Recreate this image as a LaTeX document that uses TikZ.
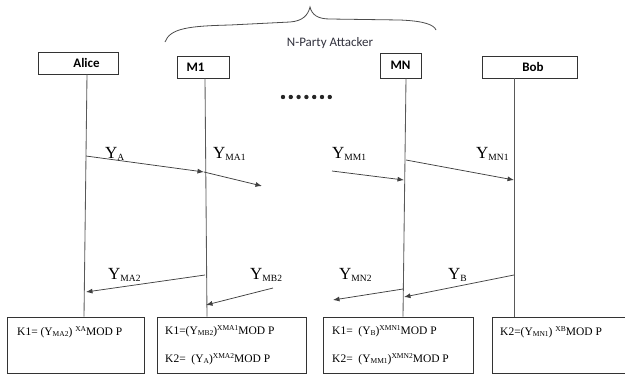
\documentclass[tikz,border=0pt]{standalone}
\usepackage{fontspec}
\setmainfont{Liberation Serif}
\newfontfamily\hdrfont{Carlito}
\usetikzlibrary{arrows.meta}
\definecolor{bracegray}{RGB}{50,50,62}
% small lowered / raised text, as in the source
\newcommand\ysub[1]{\raisebox{-2.5pt}{\fontsize{9.5}{9.5}\selectfont #1}}
\newcommand\ksub[1]{\raisebox{-1.5pt}{\fontsize{7.5}{7.5}\selectfont #1}}
\newcommand\ksup[1]{\raisebox{4pt}{\fontsize{7.5}{7.5}\selectfont #1}}

\begin{document}
\begin{tikzpicture}[x=1pt, y=-1pt, >={Latex[length=6.5pt,width=5pt]},
  hdr/.style={draw=black!80, line width=0.8pt, minimum height=22pt, inner sep=0pt},
  hdrtxt/.style={inner sep=0pt, font=\hdrfont\bfseries\fontsize{13}{13}\selectfont},
  keybox/.style={draw=black!80, line width=0.8pt, minimum height=56pt, inner sep=0pt},
  key/.style={anchor=west, inner sep=0pt, font=\fontsize{11.5}{11.5}\selectfont},
  lbl/.style={anchor=base west, inner sep=0pt, font=\fontsize{17}{17}\selectfont},
  msg/.style={->, draw=black!75, line width=0.75pt},
  life/.style={draw=black!65, line width=0.85pt}]
  \useasboundingbox (0,0) rectangle (625,376);

  % parties
  \node[hdr, minimum width=80pt, label={[hdrtxt, xshift=8.5pt]center:Alice}] (alice) at (78,63) {};
  \node[hdr, minimum width=52pt, label={[hdrtxt, xshift=-7.5pt]center:M1}] (m1) at (203,67) {};
  \node[hdr, minimum width=41pt, minimum height=25pt, label={[hdrtxt]center:MN}] (mn) at (400.5,65.5) {};
  \node[hdr, minimum width=95pt, label={[hdrtxt, xshift=3.5pt]center:Bob}] (bob) at (529.5,67) {};

  % attacker brace
  \draw[black!70, line width=0.8pt] (165,42) .. controls (170,28) and (190,26) .. (230,25)
    -- (290,22) .. controls (303,21) and (308,15) .. (310,7)
    .. controls (312,15) and (318,19) .. (330,19) -- (400,20)
    .. controls (425,21) and (434,25) .. (436,30);
  \node[text=bracegray, font=\hdrfont\fontsize{13}{13}\selectfont] (npa) at (330,43) {N-Party Attacker};
  \foreach \i in {0,...,6}
    \fill[black!85] (283+7.8*\i,97) circle (2.2pt);

  % key boxes
  \node[keybox, minimum width=137pt] (kalice) at (75.5,345) {};
  \node[keybox, minimum width=149pt] (km1) at (231.5,345) {};
  \node[keybox, minimum width=150pt] (kmn) at (398,345) {};
  \node[keybox, minimum width=136pt] (kbob) at (560,345) {};

  \node[key] (ka1) at (17,332) {K1= (Y\ksub{MA2}) \ksup{XA}MOD P};
  \node[key] (km11) at (165,331) {K1=(Y\ksub{MB2})\ksup{XMA1}MOD P};
  \node[key] (km12) at (165,359) {K2=\ \ (Y\ksub{A})\ksup{XMA2}MOD P};
  \node[key] (kmn1) at (332,331) {K1=\ \ (Y\ksub{B})\ksup{XMN1}MOD P};
  \node[key] (kmn2) at (332,359) {K2=\ \ (Y\ksub{MM1})\ksup{XMN2}MOD P};
  \node[key] (kb1) at (500,332) {K2=(Y\ksub{MN1}) \ksup{XB}MOD P};

  % lifelines
  \draw[life] ([xshift=9pt]alice.south) -- ([xshift=8.5pt]kalice.north);
  \draw[life] ([xshift=2pt]m1.south) -- ([xshift=-24.5pt]km1.north);
  \draw[life] ([xshift=5.5pt]mn.south) -- ([xshift=5pt]kmn.north);
  \draw[life] ([xshift=-15.5pt]bob.south) -- ([xshift=-46pt]kbob.north);

  % message ends
  \coordinate (ya0) at (86,156);
  \coordinate (ya1) at (204,172);
  \coordinate (yma1) at (262,186);
  \coordinate (ymm0) at (332,171);
  \coordinate (ymm1) at (404,180);
  \coordinate (ymn0) at (406,160);
  \coordinate (ymn1) at (514,180);
  \coordinate (yma20) at (205,275);
  \coordinate (yma21) at (86,292);
  \coordinate (ymb0) at (273,288);
  \coordinate (ymb1) at (206,305);
  \coordinate (yb0) at (514,275);
  \coordinate (yb1) at (404,297);
  \coordinate (ymn20) at (403,289);
  \coordinate (ymn21) at (333,300);

  % messages
  \draw[msg] (ya0) -- (ya1);
  \draw[msg] (ya1) -- (yma1);
  \draw[msg] (ymm0) -- (ymm1);
  \draw[msg] (ymn0) -- (ymn1);
  \draw[msg] (yma20) -- (yma21);
  \draw[msg] (ymb0) -- (ymb1);
  \draw[msg] (yb0) -- (yb1);
  \draw[msg] (ymn20) -- (ymn21);

  \node[lbl] (lya) at (105,158) {Y\ysub{A}};
  \node[lbl] (lyma1) at (213,158) {Y\ysub{MA1}};
  \node[lbl] (lymm1) at (332,158) {Y\ysub{MM1}};
  \node[lbl] (lymn1) at (476,158) {Y\ysub{MN1}};
  \node[lbl] (lyma2) at (108,279) {Y\ysub{MA2}};
  \node[lbl] (lymb2) at (250,279) {Y\ysub{MB2}};
  \node[lbl] (lymn2) at (339,279) {Y\ysub{MN2}};
  \node[lbl] (lyb) at (448,279) {Y\ysub{B}};
\end{tikzpicture}
\end{document}
